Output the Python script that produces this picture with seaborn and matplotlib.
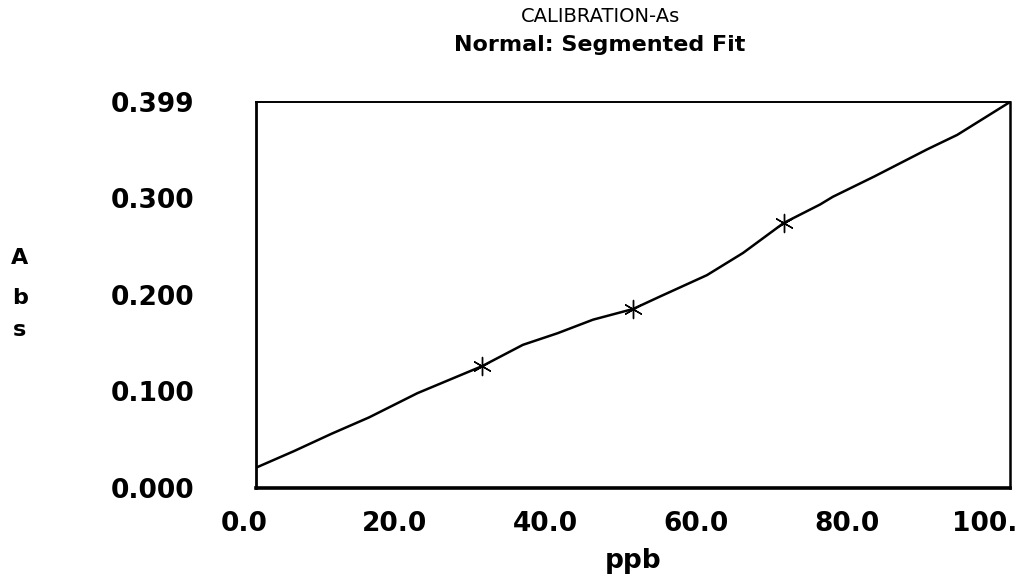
import matplotlib
matplotlib.use("Agg")
import matplotlib.pyplot as plt
import matplotlib.transforms as mtransforms
import seaborn as sns
import pandas as pd

# Calibration standards (ppb) and their measured absorbance
std_ppb = [30, 50, 70]
std_abs = [0.126, 0.185, 0.274]

# Segmented fit curve through the standards
fit_ppb = [0, 5, 10, 15, 21.4, 30, 35.4, 40, 44.7, 50, 53.6, 59.8, 64.6,
           70, 74.8, 76.5, 82, 89, 93, 100]
fit_abs = [0.021, 0.038, 0.056, 0.073, 0.098, 0.126, 0.148, 0.160, 0.174,
           0.185, 0.198, 0.220, 0.243, 0.274, 0.293, 0.301, 0.322, 0.350,
           0.365, 0.399]

# Axis ticks and labels
x_ticks = [0, 20, 40, 60, 80, 100]
x_labels = ["0.0", "20.0", "40.0", "60.0", "80.0", "100."]
y_ticks = [0.0, 0.1, 0.2, 0.3, 0.399]
y_labels = ["0.000", "0.100", "0.200", "0.300", "0.399"]

sns.set_style("white")
plt.rcParams["font.family"] = ["DejaVu Sans"]
plt.rcParams["text.color"] = "black"
plt.rcParams["xtick.color"] = "black"
plt.rcParams["ytick.color"] = "black"
plt.rcParams["axes.labelcolor"] = "black"

W, H = 1025, 578
fig = plt.figure(figsize=(W / 100, H / 100), dpi=100)
ax = fig.add_axes([256 / W, 1 - 488 / H, (1010 - 256) / W, (488 - 102) / H])

fit_df = pd.DataFrame({"ppb": fit_ppb, "abs": fit_abs})
std_df = pd.DataFrame({"ppb": std_ppb, "abs": std_abs})

sns.lineplot(data=fit_df, x="ppb", y="abs", ax=ax, color="black",
             linewidth=1.8, sort=False)
sns.scatterplot(data=std_df, x="ppb", y="abs", ax=ax, marker=(6, 2, 0),
                s=170, color="black", linewidth=1.0, edgecolor="black")

ax.set_xlim(0, 100)
ax.set_ylim(0, 0.399)
ax.set_xticks(x_ticks)
ax.set_xticklabels(x_labels, fontsize=19, fontweight="bold")
ax.set_yticks(y_ticks)
ax.set_yticklabels(y_labels, fontsize=19, fontweight="bold")
ax.tick_params(axis="both", direction="inout", length=13, width=1.3,
               color="black", labelcolor="black")
ax.tick_params(axis="x", pad=10)
ax.tick_params(axis="y", pad=38)

# x tick labels sit slightly left of their ticks; the last one more so
xlabels = ax.get_xticklabels()
for i, lbl in enumerate(xlabels):
    dx = -25 if i == len(xlabels) - 1 else -12
    shift = mtransforms.ScaledTranslation(dx / 100, 0, fig.dpi_scale_trans)
    lbl.set_transform(lbl.get_transform() + shift)

for side, lw in (("left", 2.0), ("bottom", 2.6), ("top", 1.4), ("right", 1.8)):
    ax.spines[side].set_visible(True)
    ax.spines[side].set_color("black")
    ax.spines[side].set_linewidth(lw)

ax.set_xlabel("ppb", fontsize=19, fontweight="bold")
ax.xaxis.set_label_coords(0.5, -0.155)
ax.set_ylabel("")

# stacked vertical axis title
for ch, ypix in (("A", 258), ("b", 298), ("s", 330)):
    fig.text(20 / W, 1 - ypix / H, ch, fontsize=16, fontweight="bold",
             ha="center", va="center")

fig.text(600 / W, 1 - 17 / H, "CALIBRATION-As", fontsize=14,
         ha="center", va="center")
fig.text(600 / W, 1 - 45 / H, "Normal: Segmented Fit", fontsize=16,
         fontweight="bold", ha="center", va="center")

fig.savefig("out.png", dpi=100, facecolor="white")
